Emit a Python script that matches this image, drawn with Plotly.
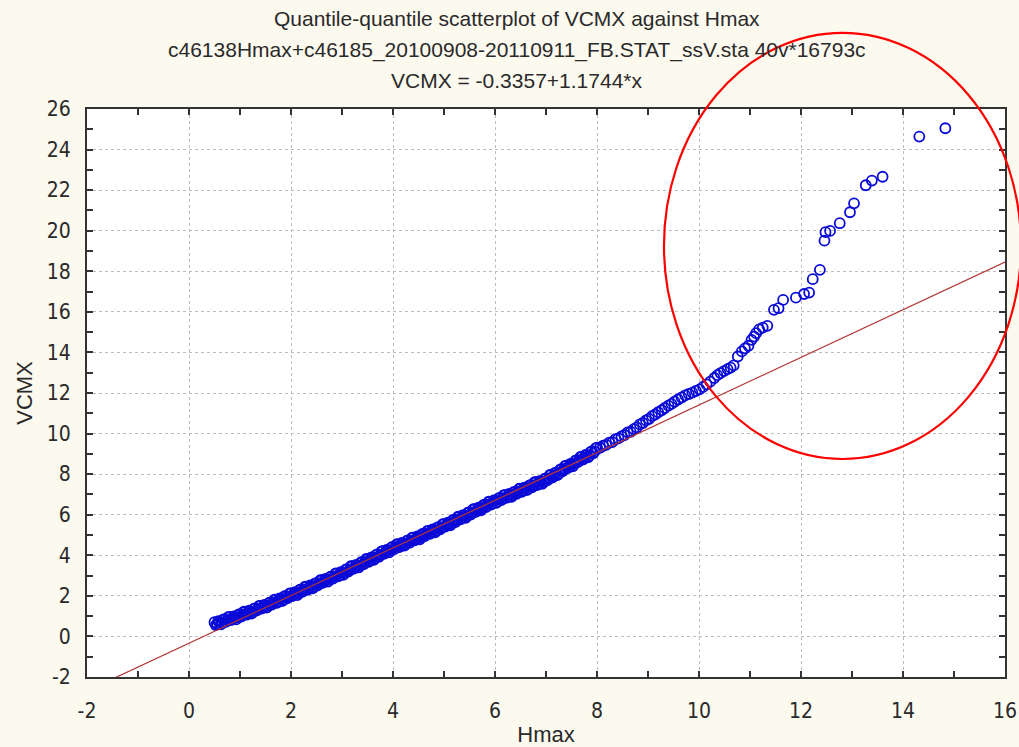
import plotly.graph_objects as go

# Quantile pairs (Hmax quantile, VCMX quantile)
hmax_q = [
    0.50, 0.55, 0.60, 0.65, 0.70, 0.75, 0.80, 0.85, 0.90, 0.95,
    1.00, 1.05, 1.10, 1.15, 1.20, 1.25, 1.30, 1.35, 1.40, 1.45,
    1.50, 1.55, 1.60, 1.65, 1.70, 1.75, 1.80, 1.85, 1.90, 1.95,
    2.00, 2.05, 2.10, 2.15, 2.20, 2.25, 2.30, 2.35, 2.40, 2.45,
    2.50, 2.55, 2.60, 2.65, 2.70, 2.75, 2.80, 2.85, 2.90, 2.95,
    3.00, 3.05, 3.10, 3.15, 3.20, 3.25, 3.30, 3.35, 3.40, 3.45,
    3.50, 3.55, 3.60, 3.65, 3.70, 3.75, 3.80, 3.85, 3.90, 3.95,
    4.00, 4.05, 4.10, 4.15, 4.20, 4.25, 4.30, 4.35, 4.40, 4.45,
    4.50, 4.55, 4.60, 4.65, 4.70, 4.75, 4.80, 4.85, 4.90, 4.95,
    5.00, 5.05, 5.10, 5.15, 5.20, 5.25, 5.30, 5.35, 5.40, 5.45,
    5.50, 5.55, 5.60, 5.65, 5.70, 5.75, 5.80, 5.85, 5.90, 5.95,
    6.00, 6.05, 6.10, 6.15, 6.20, 6.25, 6.30, 6.35, 6.40, 6.45,
    6.50, 6.55, 6.60, 6.65, 6.70, 6.75, 6.80, 6.85, 6.90, 6.95,
    7.00, 7.05, 7.10, 7.15, 7.20, 7.25, 7.30, 7.35, 7.40, 7.45,
    7.50, 7.55, 7.60, 7.65, 7.70, 7.75, 7.80, 7.85, 7.90, 7.95,
    8.00, 8.06, 8.12, 8.18, 8.24, 8.30, 8.36, 8.42, 8.48, 8.54,
    8.60, 8.66, 8.72, 8.78, 8.84, 8.90, 8.96, 9.02, 9.08, 9.14,
    9.20, 9.27, 9.33, 9.40, 9.46, 9.52, 9.59, 9.66, 9.73, 9.80,
    9.87, 9.94, 10.01, 10.08, 10.15, 10.22, 10.30,
    10.36, 10.42, 10.49, 10.56, 10.62, 10.68, 10.76, 10.84, 10.90, 10.97,
    11.03, 11.08, 11.12, 11.18, 11.25, 11.34, 11.47, 11.56, 11.65, 11.90,
    12.06, 12.16, 12.23, 12.37, 12.46, 12.48, 12.57, 12.76, 12.96, 13.04,
    13.27, 13.39, 13.60, 14.32, 14.83,
]
vcmx_q = [
    0.70, 0.61, 0.73, 0.67, 0.84, 0.80, 0.95, 0.86, 0.95, 0.93,
    1.08, 1.07, 1.21, 1.12, 1.25, 1.20, 1.38, 1.35, 1.51, 1.43,
    1.53, 1.51, 1.67, 1.66, 1.80, 1.72, 1.86, 1.81, 1.99, 1.96,
    2.12, 2.05, 2.15, 2.13, 2.30, 2.29, 2.44, 2.36, 2.49, 2.45,
    2.63, 2.61, 2.77, 2.70, 2.80, 2.79, 2.95, 2.95, 3.10, 3.02,
    3.16, 3.12, 3.31, 3.29, 3.46, 3.39, 3.50, 3.49, 3.66, 3.66,
    3.81, 3.75, 3.89, 3.85, 4.04, 4.02, 4.20, 4.13, 4.24, 4.23,
    4.40, 4.40, 4.54, 4.46, 4.60, 4.55, 4.73, 4.71, 4.87, 4.80,
    4.90, 4.88, 5.05, 5.05, 5.19, 5.12, 5.25, 5.21, 5.39, 5.37,
    5.54, 5.47, 5.58, 5.57, 5.74, 5.74, 5.90, 5.83, 5.97, 5.93,
    6.12, 6.10, 6.27, 6.21, 6.32, 6.31, 6.48, 6.48, 6.63, 6.56,
    6.70, 6.65, 6.83, 6.81, 6.97, 6.89, 6.99, 6.97, 7.13, 7.13,
    7.27, 7.19, 7.33, 7.28, 7.46, 7.44, 7.60, 7.52, 7.63, 7.61,
    7.78, 7.79, 7.96, 7.90, 8.06, 8.03, 8.24, 8.24, 8.42, 8.37,
    8.49, 8.49, 8.68, 8.69, 8.85, 8.79, 8.94, 8.91, 9.12, 9.11,
    9.29, 9.30, 9.40, 9.44, 9.55, 9.58, 9.72, 9.76, 9.86, 9.93,
    10.06, 10.09, 10.22, 10.30, 10.45, 10.52, 10.65, 10.72, 10.86, 10.94,
    11.05, 11.15, 11.26, 11.38, 11.46, 11.57, 11.68, 11.78, 11.88, 11.95,
    12.02, 12.10, 12.18, 12.30, 12.43, 12.56, 12.74,
    12.88, 12.98, 13.08, 13.18, 13.25, 13.36, 13.80, 14.05, 14.20, 14.33,
    14.62, 14.78, 14.95, 15.14, 15.22, 15.31, 16.10, 16.18, 16.59, 16.70,
    16.88, 16.95, 17.61, 18.07, 19.51, 19.93, 19.99, 20.37, 20.91, 21.35,
    22.24, 22.47, 22.66, 24.64, 25.05,
]

# Additional quantile pairs filling the dense lower part of the distribution
hmax_q_dense = [
    0.525, 0.575, 0.625, 0.675, 0.725, 0.775, 0.825, 0.875, 0.925, 0.975,
    1.025, 1.075, 1.125, 1.175, 1.225, 1.275, 1.325, 1.375, 1.425, 1.475,
    1.525, 1.575, 1.625, 1.675, 1.725, 1.775, 1.825, 1.875, 1.925, 1.975,
    2.025, 2.075, 2.125, 2.175, 2.225, 2.275, 2.325, 2.375, 2.425, 2.475,
    2.525, 2.575, 2.625, 2.675, 2.725, 2.775, 2.825, 2.875, 2.925, 2.975,
    3.025, 3.075, 3.125, 3.175, 3.225, 3.275, 3.325, 3.375, 3.425, 3.475,
    3.525, 3.575, 3.625, 3.675, 3.725, 3.775, 3.825, 3.875, 3.925, 3.975,
    4.025, 4.075, 4.125, 4.175, 4.225, 4.275, 4.325, 4.375, 4.425, 4.475,
    4.525, 4.575, 4.625, 4.675, 4.725, 4.775, 4.825, 4.875, 4.925, 4.975,
    5.025, 5.075, 5.125, 5.175, 5.225, 5.275, 5.325, 5.375, 5.425, 5.475,
    5.525, 5.575, 5.625, 5.675, 5.725, 5.775, 5.825, 5.875, 5.925, 5.975,
    6.025, 6.075, 6.125, 6.175, 6.225, 6.275, 6.325, 6.375, 6.425, 6.475,
    6.525, 6.575, 6.625, 6.675, 6.725, 6.775, 6.825, 6.875, 6.925, 6.975,
    7.025, 7.075, 7.125, 7.175, 7.225, 7.275, 7.325, 7.375, 7.425, 7.475,
    7.525, 7.575, 7.625, 7.675, 7.725, 7.775, 7.825, 7.875, 7.925, 7.975,
]
vcmx_q_dense = [
    0.56, 0.75, 0.60, 0.84, 0.72, 0.96, 0.81, 0.99, 0.84, 1.09,
    0.98, 1.22, 1.07, 1.27, 1.13, 1.37, 1.27, 1.51, 1.37, 1.56,
    1.42, 1.67, 1.57, 1.81, 1.66, 1.87, 1.74, 1.98, 1.88, 2.12,
    1.99, 2.18, 2.04, 2.30, 2.20, 2.45, 2.30, 2.51, 2.37, 2.62,
    2.52, 2.77, 2.64, 2.83, 2.70, 2.95, 2.85, 3.11, 2.96, 3.17,
    3.04, 3.30, 3.20, 3.46, 3.33, 3.53, 3.40, 3.66, 3.56, 3.82,
    3.68, 3.90, 3.77, 4.03, 3.93, 4.19, 4.07, 4.27, 4.14, 4.40,
    4.30, 4.55, 4.40, 4.61, 4.48, 4.72, 4.62, 4.87, 4.74, 4.93,
    4.79, 5.05, 4.95, 5.20, 5.06, 5.27, 5.13, 5.38, 5.28, 5.54,
    5.41, 5.61, 5.48, 5.74, 5.64, 5.90, 5.77, 5.98, 5.85, 6.11,
    6.01, 6.27, 6.14, 6.35, 6.22, 6.48, 6.38, 6.64, 6.50, 6.71,
    6.58, 6.82, 6.72, 6.97, 6.83, 7.02, 6.88, 7.13, 7.03, 7.28,
    7.13, 7.34, 7.21, 7.45, 7.35, 7.60, 7.46, 7.66, 7.52, 7.78,
    7.69, 7.96, 7.83, 8.06, 7.95, 8.22, 8.14, 8.41, 8.30, 8.51,
    8.39, 8.67, 8.59, 8.85, 8.72, 8.95, 8.83, 9.10, 9.02, 9.28,
]

# Fitted reference line: VCMX = intercept + slope * x
fit_intercept = -0.3357
fit_slope = 1.1744

x_range = [-2, 16]
y_range = [-2, 26]
x_ticks = [-2, 0, 2, 4, 6, 8, 10, 12, 14, 16]
y_ticks = [-2, 0, 2, 4, 6, 8, 10, 12, 14, 16, 18, 20, 22, 24, 26]

title_lines = [
    "Quantile-quantile scatterplot of VCMX against Hmax",
    "c46138Hmax+c46185_20100908-20110911_FB.STAT_ssV.sta 40v*16793c",
    "VCMX = -0.3357+1.1744*x",
]

BG = "#FCF9EF"
AXIS_COLOR = "#333333"
TEXT_COLOR = "#2a2a2a"
POINT_COLOR = "#0A0AD8"
TITLE_FONT = "Liberation Sans, Arial, sans-serif"
TICK_FONT = "Liberation Sans Narrow, DejaVu Sans Condensed, Liberation Sans, sans-serif"

fig = go.Figure()

fig.add_trace(go.Scatter(
    x=hmax_q_dense + hmax_q, y=vcmx_q_dense + vcmx_q,
    mode="markers",
    marker=dict(symbol="circle-open", size=10, color=POINT_COLOR,
                line=dict(width=1.8, color=POINT_COLOR)),
    hoverinfo="x+y",
    showlegend=False,
))

fit_x = list(x_range)
fit_y = [fit_intercept + fit_slope * v for v in fit_x]
fig.add_trace(go.Scatter(
    x=fit_x, y=fit_y,
    mode="lines",
    line=dict(color="#B23434", width=1.2),
    hoverinfo="skip",
    showlegend=False,
))

axis_common = dict(
    showline=True, linecolor=AXIS_COLOR, linewidth=2,
    mirror="ticks",
    ticks="inside", ticklen=6, tickwidth=1.5, tickcolor=AXIS_COLOR,
    showgrid=True, gridcolor="#BDBDBD", gridwidth=1, griddash="dot",
    zeroline=False, automargin=False,
    tickfont=dict(family=TICK_FONT, size=21, color=TEXT_COLOR),
    minor=dict(ticks="inside", ticklen=6, tickwidth=1.5, tickcolor=AXIS_COLOR,
               dtick=1, showgrid=False),
)

fig.update_xaxes(
    range=x_range, tickmode="array", tickvals=x_ticks,
    ticktext=[str(v) for v in x_ticks], **axis_common,
    ticklabelstandoff=14,
    title=dict(text="Hmax", font=dict(family=TITLE_FONT, size=22, color=TEXT_COLOR),
               standoff=18),
)
fig.update_yaxes(
    range=y_range, tickmode="array", tickvals=y_ticks,
    ticktext=[str(v) for v in y_ticks], **axis_common,
    ticklabelstandoff=10,
    title=dict(text="VCMX", font=dict(family=TITLE_FONT, size=22, color=TEXT_COLOR),
               standoff=8),
)

# Three-line heading
title_y = [1.160, 1.104, 1.051]
for text, ty in zip(title_lines, title_y):
    fig.add_annotation(
        text=text, xref="paper", yref="paper", x=0.468, y=ty,
        xanchor="center", yanchor="middle", showarrow=False,
        font=dict(family=TITLE_FONT, size=21, color=TEXT_COLOR),
    )

# Hand-drawn highlight around the upper tail
fig.add_shape(
    type="circle", xref="paper", yref="paper",
    x0=0.6285, x1=1.0174, y0=0.3838, y1=1.134,
    line=dict(color="#FF0000", width=2.2), layer="above",
)

fig.update_layout(
    width=1019, height=747,
    margin=dict(l=87, r=14, t=109, b=70),
    paper_bgcolor=BG, plot_bgcolor="white",
    font=dict(family=TITLE_FONT, color=TEXT_COLOR),
)

fig.write_html("out.html")
